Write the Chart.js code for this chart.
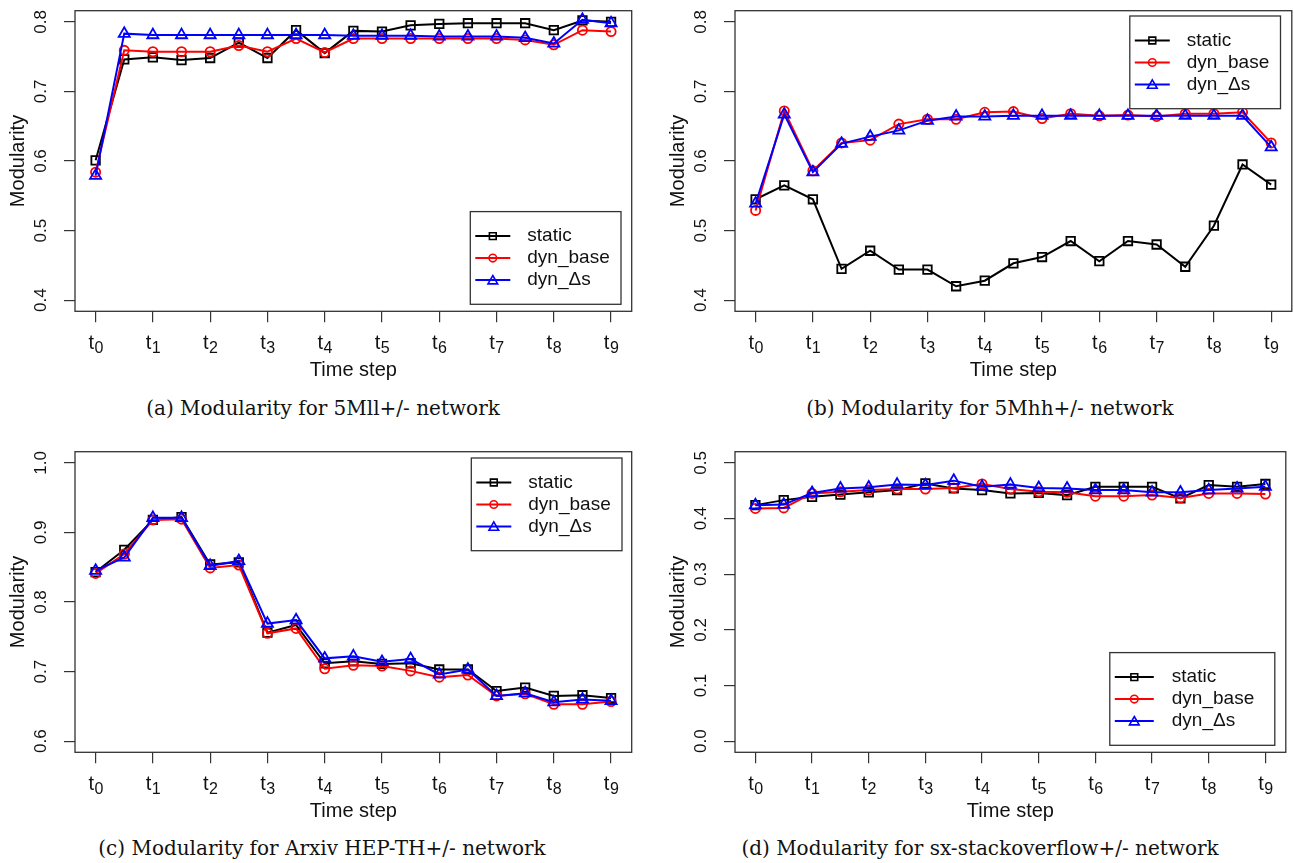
<!DOCTYPE html>
<html>
<head>
<meta charset="utf-8">
<script src="https://cdn.jsdelivr.net/npm/chart.js@4.4.1/dist/chart.umd.min.js"></script>
<style>
body { margin:0; background:#fff; width:1294px; height:863px; position:relative; overflow:hidden; }
canvas { position:absolute; }
.cap { position:absolute; width:640px; text-align:center; font-family:"DejaVu Serif", serif; font-size:20px; line-height:24px; color:#111; white-space:nowrap; }
</style>
</head>
<body>
<canvas id="ca" width="640" height="390" style="left:0;top:0"></canvas>
<canvas id="cb" width="640" height="390" style="left:660px;top:0"></canvas>
<canvas id="cc" width="640" height="390" style="left:0;top:441px"></canvas>
<canvas id="cd" width="634" height="390" style="left:660px;top:441px"></canvas>
<div class="cap" style="left:3px;top:396px">(a) Modularity for 5Mll+/- network</div>
<div class="cap" style="left:670px;top:396px">(b) Modularity for 5Mhh+/- network</div>
<div class="cap" style="left:2px;top:836px">(c) Modularity for Arxiv HEP-TH+/- network</div>
<div class="cap" style="left:660px;top:836px">(d) Modularity for sx-stackoverflow+/- network</div>
<script>
var fam = "'Liberation Sans', Arial, sans-serif";
Chart.defaults.font.family = fam;
Chart.defaults.color = '#111';

// time steps t0, t0.5, ... t9
var steps = [0, 0.5, 1, 1.5, 2, 2.5, 3, 3.5, 4, 4.5, 5, 5.5, 6, 6.5, 7, 7.5, 8, 8.5, 9];
var xTicks = [0, 1, 2, 3, 4, 5, 6, 7, 8, 9];
var xSubs = ['0', '1', '2', '3', '4', '5', '6', '7', '8', '9'];
var seriesNames = ['static', 'dyn_base', 'dyn_\u0394s'];

// (a) 5Mll+/-
var aStatic = [0.601, 0.746, 0.749, 0.745, 0.748, 0.770, 0.748, 0.788, 0.755, 0.787, 0.786, 0.795, 0.797, 0.798, 0.798, 0.798, 0.788, 0.802, 0.800];
var aBase = [0.584, 0.759, 0.757, 0.757, 0.757, 0.766, 0.757, 0.776, 0.756, 0.776, 0.776, 0.776, 0.776, 0.776, 0.776, 0.774, 0.767, 0.788, 0.786];
var aDelta = [0.579, 0.783, 0.781, 0.781, 0.781, 0.781, 0.781, 0.781, 0.781, 0.780, 0.780, 0.780, 0.779, 0.779, 0.779, 0.777, 0.769, 0.803, 0.798];
var aTicks = [0.4, 0.5, 0.6, 0.7, 0.8];

// (b) 5Mhh+/-
var bStatic = [0.545, 0.565, 0.545, 0.445, 0.471, 0.444, 0.444, 0.420, 0.428, 0.453, 0.462, 0.485, 0.456, 0.485, 0.480, 0.448, 0.507, 0.595, 0.566];
var bBase = [0.529, 0.672, 0.586, 0.626, 0.630, 0.653, 0.660, 0.660, 0.670, 0.671, 0.661, 0.668, 0.665, 0.666, 0.664, 0.668, 0.668, 0.670, 0.626];
var bDelta = [0.539, 0.667, 0.584, 0.625, 0.635, 0.644, 0.658, 0.664, 0.664, 0.665, 0.665, 0.665, 0.665, 0.665, 0.665, 0.665, 0.665, 0.665, 0.620];
var bTicks = [0.4, 0.5, 0.6, 0.7, 0.8];

// (c) Arxiv HEP-TH+/-
var cStatic = [0.843, 0.875, 0.918, 0.922, 0.854, 0.857, 0.756, 0.767, 0.712, 0.715, 0.711, 0.712, 0.703, 0.703, 0.672, 0.677, 0.665, 0.666, 0.662];
var cBase = [0.841, 0.869, 0.918, 0.919, 0.849, 0.853, 0.755, 0.762, 0.704, 0.709, 0.708, 0.701, 0.692, 0.695, 0.665, 0.668, 0.653, 0.653, 0.657];
var cDelta = [0.845, 0.864, 0.921, 0.921, 0.852, 0.859, 0.769, 0.774, 0.719, 0.722, 0.714, 0.718, 0.696, 0.703, 0.665, 0.669, 0.656, 0.660, 0.658];
var cTicks = [0.6, 0.7, 0.8, 0.9, 1.0];

// (d) sx-stackoverflow+/-
var dStatic = [0.424, 0.433, 0.439, 0.443, 0.447, 0.451, 0.463, 0.454, 0.451, 0.445, 0.446, 0.442, 0.457, 0.457, 0.457, 0.436, 0.460, 0.457, 0.462];
var dBase = [0.418, 0.419, 0.445, 0.448, 0.451, 0.453, 0.453, 0.455, 0.462, 0.453, 0.448, 0.447, 0.440, 0.440, 0.442, 0.437, 0.445, 0.445, 0.444];
var dDelta = [0.424, 0.425, 0.446, 0.454, 0.456, 0.461, 0.460, 0.468, 0.457, 0.461, 0.455, 0.454, 0.451, 0.451, 0.447, 0.447, 0.451, 0.454, 0.457];
var dTicks = [0.0, 0.1, 0.2, 0.3, 0.4, 0.5];

function marker(ctx, style, x, y, r) {
  ctx.beginPath();
  if (style === 'rect') {
    var s = r * Math.SQRT2;
    ctx.rect(x - s / 2, y - s / 2, s, s);
  } else if (style === 'circle') {
    ctx.arc(x, y, r, 0, Math.PI * 2);
  } else {
    ctx.moveTo(x, y - r);
    ctx.lineTo(x + r * 0.866, y + r * 0.5);
    ctx.lineTo(x - r * 0.866, y + r * 0.5);
    ctx.closePath();
  }
  ctx.stroke();
}

// R style frame, t_i axis labels and boxed legend
var rStyle = {
  id: 'rStyle',
  beforeDatasetsDraw: function(chart) {
    var a = chart.chartArea, ctx = chart.ctx;
    ctx.save();
    ctx.strokeStyle = '#333';
    ctx.lineWidth = 1.3;
    ctx.strokeRect(a.left, a.top, a.right - a.left, a.bottom - a.top);
    ctx.restore();
  },
  afterDatasetsDraw: function(chart) {
    var o = chart.options.plugins.rStyle, a = chart.chartArea, ctx = chart.ctx;
    var left = a.right - o.dx - o.w;
    var top = o.pos === 'top' ? a.top + o.dy : a.bottom - o.dy - o.h;
    ctx.save();
    ctx.fillStyle = '#fff';
    ctx.fillRect(left, top, o.w, o.h);
    ctx.strokeStyle = '#333';
    ctx.lineWidth = 1.3;
    ctx.strokeRect(left, top, o.w, o.h);
    var sizes = { rect: 4.8, circle: 3.8, triangle: 5.6 };
    chart.data.datasets.forEach(function(ds, i) {
      var y = top + 24.5 + i * 22;
      ctx.strokeStyle = ds.borderColor;
      ctx.lineWidth = 2;
      ctx.beginPath();
      ctx.moveTo(left + 5, y);
      ctx.lineTo(left + o.lineEnd, y);
      ctx.stroke();
      ctx.lineWidth = 1.6;
      marker(ctx, ds.pointStyle, left + (5 + o.lineEnd) / 2, y + (ds.pointStyle === 'triangle' ? 1 : 0), sizes[ds.pointStyle]);
      ctx.fillStyle = '#111';
      ctx.font = '19px ' + fam;
      ctx.textBaseline = 'middle';
      ctx.fillText(ds.label, left + o.textX, y);
    });
    ctx.restore();
  },
  afterDraw: function(chart) {
    var xs = chart.scales.x, ctx = chart.ctx;
    var base = chart.chartArea.bottom + 38;
    ctx.save();
    ctx.fillStyle = '#111';
    ctx.textAlign = 'left';
    ctx.textBaseline = 'alphabetic';
    xs.ticks.forEach(function(t, i) {
      var px = xs.getPixelForValue(t.value);
      ctx.font = '20px ' + fam;
      var w1 = ctx.measureText('t').width;
      ctx.font = '16px ' + fam;
      var w2 = ctx.measureText(xSubs[i]).width;
      var x0 = px - (w1 + w2) / 2;
      ctx.font = '20px ' + fam;
      ctx.fillText('t', x0, base);
      ctx.font = '16px ' + fam;
      ctx.fillText(xSubs[i], x0 + w1 + 0.5, base + 3.5);
    });
    ctx.restore();
  }
};

function makePanel(id, s1, s2, s3, yMin, yMax, yTicks, padRight, leg) {
  var vals = [s1, s2, s3];
  var cols = ['#000000', '#ff0000', '#0000ff'];
  var styles = ['rect', 'circle', 'triangle'];
  var radii = [6, 4.6, 6.4];
  var datasets = vals.map(function(v, i) {
    return {
      label: seriesNames[i],
      data: v,
      borderColor: cols[i],
      borderWidth: 2,
      pointStyle: styles[i],
      pointRadius: radii[i],
      pointBorderWidth: 1.8,
      pointBorderColor: cols[i],
      pointBackgroundColor: 'rgba(0,0,0,0)',
      tension: 0,
      order: 2 - i
    };
  });
  new Chart(document.getElementById(id), {
    type: 'line',
    data: { labels: steps, datasets: datasets },
    options: {
      responsive: false,
      animation: false,
      events: [],
      layout: { padding: { top: 10.7, right: padRight, left: 0, bottom: 0 } },
      plugins: {
        legend: { display: false },
        tooltip: { enabled: false },
        rStyle: leg
      },
      scales: {
        x: {
          type: 'linear',
          min: -0.36,
          max: 9.36,
          afterBuildTicks: function(s) { s.ticks = xTicks.map(function(v) { return { value: v }; }); },
          ticks: { display: false },
          grid: { drawOnChartArea: false, drawTicks: true, tickLength: 11, color: '#333', lineWidth: 1.2 },
          border: { display: false },
          title: { display: true, text: 'Time step', font: { size: 20 }, color: '#111', padding: { top: 0, bottom: 8 } },
          afterFit: function(s) { s.height = 78.7; s.paddingLeft = 0; s.paddingRight = 0; }
        },
        y: {
          type: 'linear',
          min: yMin,
          max: yMax,
          afterBuildTicks: function(s) { s.ticks = yTicks.map(function(v) { return { value: v }; }); },
          ticks: {
            minRotation: 90,
            maxRotation: 90,
            crossAlign: 'center',
            padding: 10.5,
            font: { size: 17 },
            color: '#111',
            callback: function(v) { return Number(v).toFixed(1); }
          },
          grid: { drawOnChartArea: false, drawTicks: true, tickLength: 11, color: '#333', lineWidth: 1.2 },
          border: { display: false },
          title: { display: true, text: 'Modularity', font: { size: 20 }, color: '#111', padding: { top: 6, bottom: 0 } },
          afterFit: function(s) { s.width = 75; s.paddingTop = 0; s.paddingBottom = 0; }
        }
      }
    },
    plugins: [rStyle]
  });
}

makePanel('ca', aStatic, aBase, aDelta, 0.384, 0.816, aTicks, 8.3,
  { pos: 'bottom', dx: 10.7, dy: 7, w: 150.7, h: 92.7, lineEnd: 40, textX: 57 });
makePanel('cb', bStatic, bBase, bDelta, 0.384, 0.816, bTicks, 4,
  { pos: 'top', dx: 11.3, dy: 5.3, w: 150.7, h: 92.7, lineEnd: 40, textX: 57 });
makePanel('cc', cStatic, cBase, cDelta, 0.584, 1.016, cTicks, 8.3,
  { pos: 'top', dx: 9.7, dy: 6.3, w: 150.7, h: 92.7, lineEnd: 40, textX: 57 });
makePanel('cd', dStatic, dBase, dDelta, -0.02, 0.52, dTicks, 5,
  { pos: 'bottom', dx: 11, dy: 7, w: 165, h: 92.7, lineEnd: 44, textX: 62 });
</script>
</body>
</html>
